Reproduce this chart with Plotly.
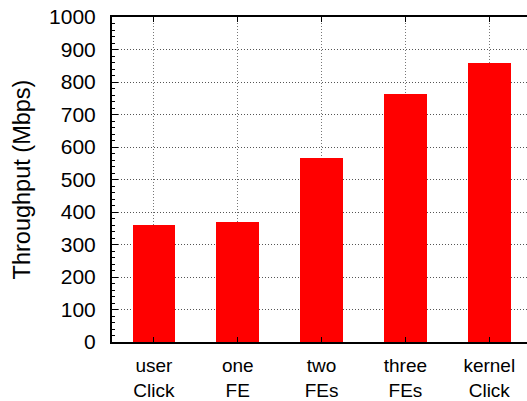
import plotly.graph_objects as go

# Throughput per configuration
categories = ["user<br>Click", "one<br>FE", "two<br>FEs", "three<br>FEs", "kernel<br>Click"]
throughput_mbps = [360, 370, 565, 762, 860]
y_ticks = list(range(0, 1001, 100))

FONT = "Liberation Sans, Arial, Helvetica, sans-serif"

fig = go.Figure()
fig.add_trace(go.Bar(
    x=list(range(len(categories))),
    y=throughput_mbps,
    width=0.51,
    marker=dict(color="#ff0000", line=dict(width=0)),
))

fig.update_layout(
    width=527,
    height=401,
    margin=dict(l=112, r=0, t=17, b=59, autoexpand=False),
    paper_bgcolor="white",
    plot_bgcolor="white",
    showlegend=False,
    font=dict(family=FONT, size=21, color="black"),
    bargap=0,
)

fig.update_xaxes(
    range=[-0.5, 4.45],
    tickmode="array",
    tickvals=list(range(len(categories))),
    ticktext=categories,
    tickfont=dict(size=19),
    showgrid=True,
    gridcolor="#777777",
    griddash="1px,2px",
    gridwidth=1,
    showline=True,
    linecolor="black",
    linewidth=2,
    mirror="ticks",
    ticks="inside",
    ticklen=5,
    tickcolor="black",
    zeroline=False,
    automargin=False,
    ticklabelstandoff=5,
)

fig.update_yaxes(
    range=[0, 1000],
    tickmode="array",
    tickvals=y_ticks,
    title=dict(text="Throughput (Mbps)", font=dict(size=23.5), standoff=12),
    showgrid=True,
    gridcolor="#555555",
    griddash="1px,2px",
    gridwidth=1,
    showline=True,
    linecolor="black",
    linewidth=2,
    mirror=False,
    ticks="inside",
    ticklen=6,
    tickcolor="black",
    minor=dict(dtick=20, ticks="inside", ticklen=3, tickcolor="black", showgrid=False),
    zeroline=False,
    automargin=False,
    ticklabelstandoff=10,
)

fig.write_html("out.html")
